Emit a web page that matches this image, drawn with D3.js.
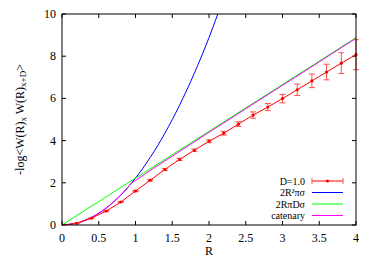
<!DOCTYPE html>
<html><head><meta charset="utf-8">
<script src="https://cdn.jsdelivr.net/npm/d3@7"></script>
<style>body{margin:0;background:#fff}svg{display:block}</style>
</head><body><svg id="c" width="374" height="262"></svg>
<script>
const dataR   = [0,0.2,0.4,0.6,0.8,1.0,1.2,1.4,1.6,1.8,2.0,2.2,2.4,2.6,2.8,3.0,3.2,3.4,3.6,3.8,4.0];
const dataV   = [0,0.08,0.32,0.66,1.09,1.61,2.12,2.63,3.11,3.54,3.97,4.35,4.78,5.21,5.59,5.99,6.41,6.83,7.25,7.67,8.07];
const dataErr = [0,0.02,0.02,0.02,0.02,0.03,0.04,0.05,0.05,0.06,0.07,0.09,0.11,0.15,0.17,0.2,0.27,0.32,0.37,0.49,0.71];
const discR   = [0,0.2,0.4,0.6,0.8,1.0,1.2,1.4,1.6,1.8,2.0,2.12];
const discV   = [0,0.09,0.36,0.80,1.42,2.22,3.20,4.35,5.68,7.19,8.88,10];
const tubeR   = [0,4];
const tubeV   = [0,8.88];
const catR    = [0,0.2,0.4,0.6,0.8,0.9,0.95,1.0,1.25,1.5,2,2.5,3,3.5,4];
const catV    = [0,0.09,0.36,0.80,1.42,1.80,2.0,2.11,2.70,3.26,4.39,5.51,6.62,7.73,8.85];
const xTicks  = [0,0.5,1,1.5,2,2.5,3,3.5,4];
const yTicks  = [0,2,4,6,8,10];
const legendLabels = ["D=1.0","2R²πσ","2RπDσ","catenary"];
const colors = ["#ff0000","#0000ff","#00ff00","#ff00ff"];

const FONT = "Liberation Serif";
const svg = d3.select("#c");
const L=62,R=356,T=14,B=225;
const x = d3.scaleLinear().domain([0,4]).range([L,R]);
const y = d3.scaleLinear().domain([0,10]).range([B,T]);

svg.append("defs").append("clipPath").attr("id","clip").append("rect").attr("x",L).attr("y",T).attr("width",R-L).attr("height",B-T);

const tl=4;
const g = svg.append("g");
xTicks.forEach(t=>{
  g.append("line").attr("x1",x(t)).attr("x2",x(t)).attr("y1",B).attr("y2",B-tl).attr("stroke","#000");
  g.append("line").attr("x1",x(t)).attr("x2",x(t)).attr("y1",T).attr("y2",T+tl).attr("stroke","#000");
  g.append("text").attr("x",x(t)).attr("y",B+17).attr("text-anchor","middle").attr("font-family",FONT).attr("font-size",12).text(t);
});
yTicks.forEach(t=>{
  g.append("line").attr("x1",L).attr("x2",L+tl).attr("y1",y(t)).attr("y2",y(t)).attr("stroke","#000");
  g.append("line").attr("x1",R).attr("x2",R-tl).attr("y1",y(t)).attr("y2",y(t)).attr("stroke","#000");
  g.append("text").attr("x",L-6).attr("y",y(t)+4).attr("text-anchor","end").attr("font-family",FONT).attr("font-size",12).text(t);
});

const plot = svg.append("g").attr("clip-path","url(#clip)");
const line = d3.line().x(d=>x(d[0])).y(d=>y(d[1]));
const sline = d3.line().x(d=>x(d[0])).y(d=>y(d[1])).curve(d3.curveMonotoneX);

plot.append("path").datum(d3.zip(discR,discV)).attr("d",sline).attr("fill","none").attr("stroke",colors[1]).attr("stroke-width",1);
plot.append("path").datum(d3.zip(tubeR,tubeV)).attr("d",line).attr("fill","none").attr("stroke",colors[2]).attr("stroke-width",1);
plot.append("path").datum(d3.zip(catR,catV)).attr("d",sline).attr("fill","none").attr("stroke",colors[3]).attr("stroke-width",1);

const pts = d3.zip(dataR,dataV,dataErr);
plot.append("path").datum(pts).attr("d",line).attr("fill","none").attr("stroke",colors[0]).attr("stroke-width",1);
const eb = svg.append("g").attr("stroke","#ff5050").attr("stroke-width",1);
pts.forEach(([r,v,e])=>{
  if(r===0) return;
  eb.append("line").attr("x1",x(r)).attr("x2",x(r)).attr("y1",y(v-e)).attr("y2",y(v+e));
  [v-e,v+e].forEach(w=>eb.append("line").attr("x1",x(r)-3).attr("x2",x(r)+3).attr("y1",y(w)).attr("y2",y(w)));
  svg.append("circle").attr("cx",x(r)).attr("cy",y(v)).attr("r",1.6).attr("fill",colors[0]);
});

svg.append("rect").attr("x",L).attr("y",T).attr("width",R-L).attr("height",B-T).attr("fill","none").attr("stroke","#000").attr("stroke-width",1);

svg.append("text").attr("x",(L+R)/2).attr("y",B+30).attr("text-anchor","middle").attr("font-family",FONT).attr("font-size",12).text("R");
const yl = svg.append("text").attr("transform",`translate(24,${(T+B)/2}) rotate(-90)`).attr("text-anchor","middle").attr("font-family",FONT).attr("font-size",12);
yl.append("tspan").text("-log<W(R)");
yl.append("tspan").attr("baseline-shift","-25%").attr("font-size","9px").text("x");
yl.append("tspan").text(" W(R)");
yl.append("tspan").attr("baseline-shift","-25%").attr("font-size","9px").text("x+D");
yl.append("tspan").text(">");

const lx=305, sx1=312, sx2=343;
const rows=[181,192.5,204,215.5];
legendLabels.forEach((lab,i)=>{
  const yy=rows[i];
  svg.append("text").attr("x",lx).attr("y",yy+3.5).attr("text-anchor","end").attr("font-family",FONT).attr("font-size",10).text(lab);
  svg.append("line").attr("x1",sx1).attr("x2",sx2).attr("y1",yy).attr("y2",yy).attr("stroke",colors[i]).attr("stroke-width",1);
  if(i===0){
    [sx1,sx2].forEach(xx=>svg.append("line").attr("x1",xx).attr("x2",xx).attr("y1",yy-3).attr("y2",yy+3).attr("stroke","#ff5050"));
    svg.append("circle").attr("cx",(sx1+sx2)/2).attr("cy",yy).attr("r",1.6).attr("fill",colors[0]);
  }
});
</script></body></html>
